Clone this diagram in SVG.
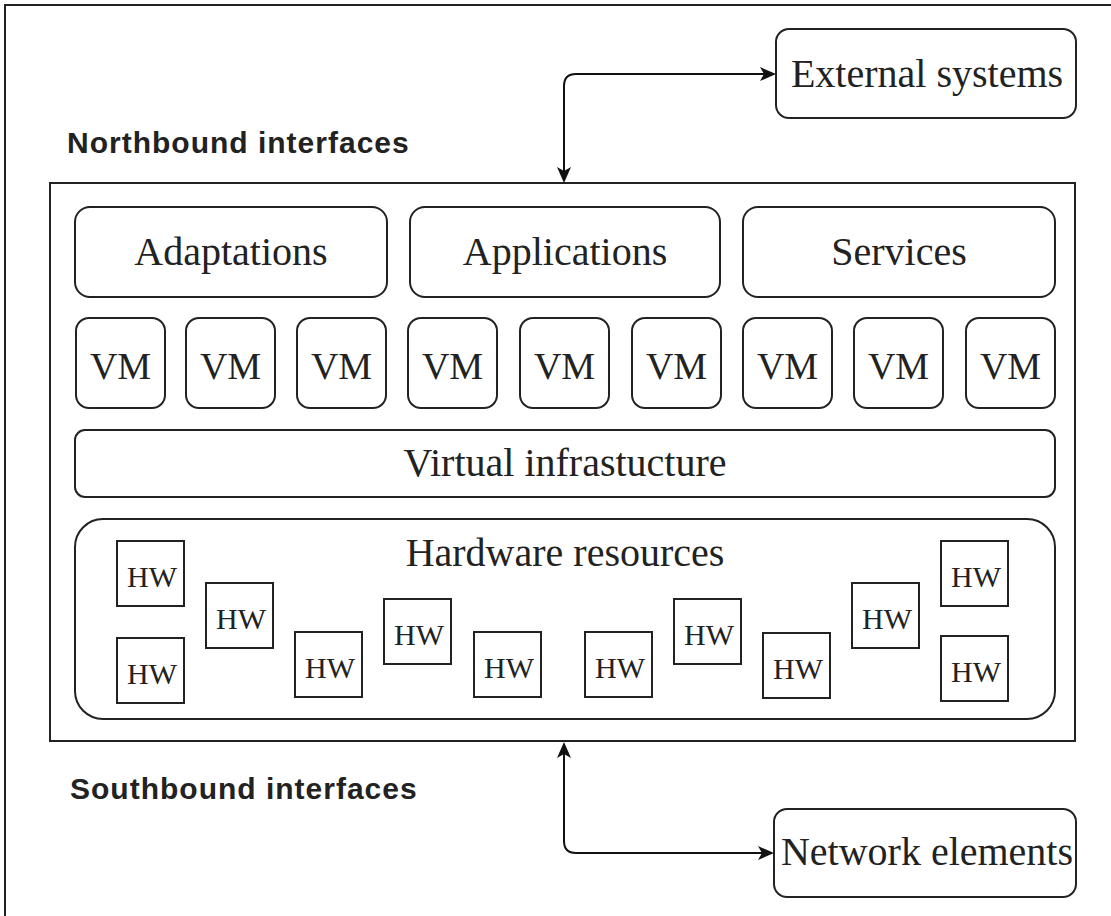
<svg xmlns="http://www.w3.org/2000/svg" width="1111" height="916" viewBox="0 0 1111 916">
<style>
.box{fill:#fff;stroke:#222;stroke-width:2}
.frame{fill:none;stroke:#222;stroke-width:2}
.lbl{font-family:"Liberation Serif","Times New Roman",serif;font-size:40px;fill:#222;text-anchor:middle}
.vm{font-family:"Liberation Serif","Times New Roman",serif;font-size:38px;fill:#222;text-anchor:middle}
.hw{font-family:"Liberation Serif","Times New Roman",serif;font-size:30px;fill:#222;text-anchor:middle}
.iface{font-family:"Liberation Sans",Arial,sans-serif;font-size:30px;font-weight:bold;letter-spacing:1px;fill:#222}
.conn{fill:none;stroke:#111;stroke-width:2}
</style>
<defs>
<marker id="arrow" markerUnits="userSpaceOnUse" markerWidth="18" markerHeight="16" viewBox="0 0 18 16" refX="13" refY="8" orient="auto-start-reverse">
<path d="M0,1 L16,8 L0,15 L4,8 Z" fill="#111"/>
</marker>
</defs>
<rect width="1111" height="916" fill="#fff"/>
<rect id="outer-frame" class="frame" x="5" y="5" width="1200" height="1000"/>
<text id="northbound" class="iface" x="67" y="153">Northbound interfaces</text>
<text id="southbound" class="iface" x="70" y="799">Southbound interfaces</text>
<g id="external-systems">
<rect class="box" x="776" y="29" width="300" height="89" rx="13"/>
<text class="lbl" x="927" y="87">External systems</text>
</g>
<g id="network-elements">
<rect class="box" x="774" y="809" width="302" height="88" rx="13"/>
<text class="lbl" x="927" y="865">Network elements</text>
</g>
<g id="nfv-platform">
<rect class="box" x="50" y="183" width="1025" height="558"/>
</g>
<g id="adaptations">
<rect class="box" x="75" y="207" width="312" height="90" rx="15"/>
<text class="lbl" x="231" y="265">Adaptations</text>
</g>
<g id="applications">
<rect class="box" x="410" y="207" width="310" height="90" rx="15"/>
<text class="lbl" x="565" y="265">Applications</text>
</g>
<g id="services">
<rect class="box" x="743" y="207" width="312" height="90" rx="15"/>
<text class="lbl" x="899" y="265">Services</text>
</g>
<g id="vm1"><rect class="box" x="76" y="318" width="89" height="90" rx="13"/><text class="vm" x="120.5" y="379">VM</text></g>
<g id="vm2"><rect class="box" x="186" y="318" width="89" height="90" rx="13"/><text class="vm" x="230.5" y="379">VM</text></g>
<g id="vm3"><rect class="box" x="297" y="318" width="89" height="90" rx="13"/><text class="vm" x="341.5" y="379">VM</text></g>
<g id="vm4"><rect class="box" x="408" y="318" width="89" height="90" rx="13"/><text class="vm" x="452.5" y="379">VM</text></g>
<g id="vm5"><rect class="box" x="520" y="318" width="89" height="90" rx="13"/><text class="vm" x="564.5" y="379">VM</text></g>
<g id="vm6"><rect class="box" x="632" y="318" width="89" height="90" rx="13"/><text class="vm" x="676.5" y="379">VM</text></g>
<g id="vm7"><rect class="box" x="743" y="318" width="89" height="90" rx="13"/><text class="vm" x="787.5" y="379">VM</text></g>
<g id="vm8"><rect class="box" x="854" y="318" width="89" height="90" rx="13"/><text class="vm" x="898.5" y="379">VM</text></g>
<g id="vm9"><rect class="box" x="966" y="318" width="89" height="90" rx="13"/><text class="vm" x="1010.5" y="379">VM</text></g>
<g id="virtual-infrastructure">
<rect class="box" x="75" y="430" width="980" height="67" rx="10"/>
<text class="lbl" x="565" y="476">Virtual infrastucture</text>
</g>
<g id="hardware-resources">
<rect class="box" x="75" y="519" width="980" height="200" rx="28"/>
<text class="lbl" x="565" y="566">Hardware resources</text>
</g>
<g id="hw1"><rect class="box" x="117" y="541" width="67" height="65"/><text class="hw" x="152" y="587">HW</text></g>
<g id="hw2"><rect class="box" x="117" y="638" width="67" height="65"/><text class="hw" x="152" y="684">HW</text></g>
<g id="hw3"><rect class="box" x="206" y="583" width="67" height="65"/><text class="hw" x="241" y="629">HW</text></g>
<g id="hw4"><rect class="box" x="295" y="632" width="67" height="65"/><text class="hw" x="330" y="678">HW</text></g>
<g id="hw5"><rect class="box" x="384" y="599" width="67" height="65"/><text class="hw" x="419" y="645">HW</text></g>
<g id="hw6"><rect class="box" x="474" y="632" width="67" height="65"/><text class="hw" x="509" y="678">HW</text></g>
<g id="hw7"><rect class="box" x="585" y="632" width="67" height="65"/><text class="hw" x="620" y="678">HW</text></g>
<g id="hw8"><rect class="box" x="674" y="599" width="67" height="65"/><text class="hw" x="709" y="645">HW</text></g>
<g id="hw9"><rect class="box" x="763" y="633" width="67" height="65"/><text class="hw" x="798" y="679">HW</text></g>
<g id="hw10"><rect class="box" x="852" y="583" width="67" height="65"/><text class="hw" x="887" y="629">HW</text></g>
<g id="hw11"><rect class="box" x="941" y="541" width="67" height="65"/><text class="hw" x="976" y="587">HW</text></g>
<g id="hw12"><rect class="box" x="941" y="636" width="67" height="65"/><text class="hw" x="976" y="682">HW</text></g>
<g id="connectors">
<path class="conn" d="M564,180 L564,86 Q564,74 576,74 L773,74" marker-start="url(#arrow)" marker-end="url(#arrow)"/>
<path class="conn" d="M564,745 L564,841 Q564,853 576,853 L771,853" marker-start="url(#arrow)" marker-end="url(#arrow)"/>
</g>
</svg>
